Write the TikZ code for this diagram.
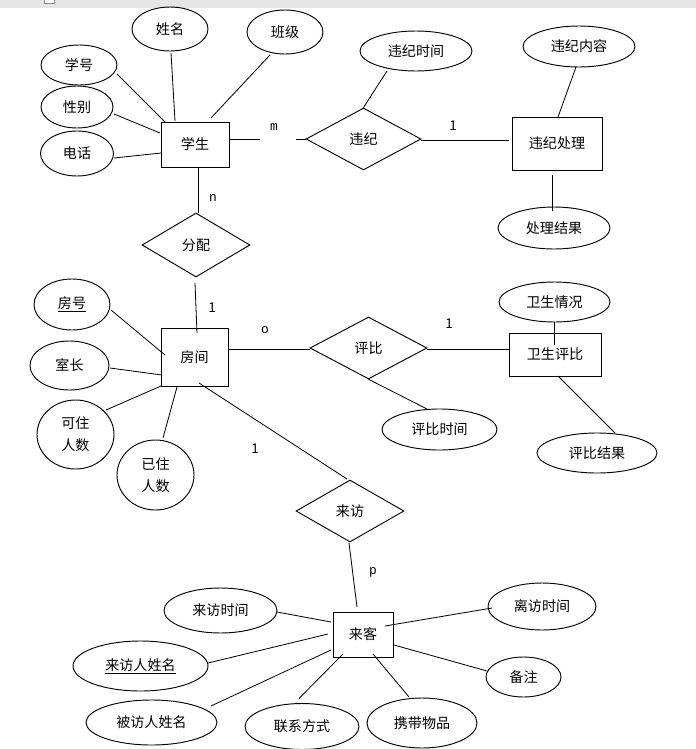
\documentclass[tikz,border=0pt]{standalone}
\usepackage{fontspec}
\setmainfont{Noto Sans CJK SC}
\newfontfamily\labfont{Liberation Mono}
\usetikzlibrary{shapes.geometric,calc}
\tikzset{
  ell/.style 2 args={ellipse,draw,line width=0.8pt,minimum width=#1*0.03cm,minimum height=#2*0.03cm,inner sep=0pt},
  ent/.style 2 args={rectangle,draw,line width=0.8pt,minimum width=#1*0.03cm,minimum height=#2*0.03cm,inner sep=0pt},
  rel/.style 2 args={diamond,draw,line width=0.8pt,minimum width=#1*0.03cm,minimum height=#2*0.03cm,inner sep=0pt},
  conn/.style={line width=0.7pt},
  card/.style={inner sep=0pt,font=\labfont\fontsize{11pt}{13pt}\selectfont},
  cardone/.style={inner sep=0pt,font=\fontsize{11.5pt}{13pt}\selectfont},
}
\begin{document}
\begin{tikzpicture}[x=0.03cm,y=-0.03cm,font=\fontsize{12pt}{19pt}\selectfont]
\useasboundingbox (0,0) rectangle (696,749);
\fill[black!10] (0,0) rectangle (696,8);
\draw[black!45,fill=white,line width=0.5pt] (44,-1) rectangle (54,3);

% student
\node[ent={68}{45}] (stu) at (195,144.5) {学生};
\node[ell={76}{44}] (xm) at (170,29) {姓名};
\node[ell={76}{44}] (bj) at (285,32) {班级};
\node[ell={76}{40}] (xh) at (79,65) {学号};
\node[ell={72}{42}] (xb) at (77,107) {性别};
\node[ell={73}{45}] (dh) at (77,153.5) {电话};
\draw[conn] ($(xh)+(38,9)$) -- ($(stu)+(-30,-22.5)$);
\draw[conn] ($(xm)+(1,24)$) -- ($(stu)+(-20,-23.5)$);
\draw[conn] ($(bj)+(-15,23)$) -- ($(stu)+(16,-26.5)$);
\draw[conn] ($(xb)+(37,7)$) -- ($(stu)+(-35,-11.5)$);
\draw[conn] ($(dh)+(37,4.5)$) -- ($(stu)+(-34,8.5)$);

% violation
\node[rel={115}{62}] (wj) at (363.5,139) {违纪};
\coordinate (gapA) at (260,139);
\coordinate (gapB) at (296,139);
\draw[conn] ($(stu)+(34,-5.5)$) -- (gapA);
\draw[conn] (gapB) -- (wj.west);
\node[card] (lm) at (274,127) {m};
\node[ell={112}{40}] (wjsj) at (416,51) {违纪时间};
\draw[conn] ($(wjsj)+(-29,20)$) -- (wj.north);
\node[ent={90}{53}] (wjcl) at (557,143.5) {违纪处理};
\draw[conn] ($(wj)+(57.5,1)$) -- ($(wjcl)+(-48,-3.5)$);
\node[cardone] (l1a) at (453,126) {1};
\node[ell={112}{41}] (wjnr) at (579,46.5) {违纪内容};
\draw[conn] ($(wjnr)+(-3,20.5)$) -- ($(wjcl)+(1,-26.5)$);
\node[ell={112}{42}] (cljg) at (554,228) {处理结果};
\draw[conn] ($(wjcl)+(-5,31.5)$) -- ($(cljg)+(-2,-17)$);

% assignment
\node[rel={108}{64}] (fp) at (196,245) {分配};
\draw[conn] ($(stu)+(3,22.5)$) -- ($(fp)+(2,-32)$);
\node[card] (ln) at (213,198) {n};
\node[ent={67}{58}] (fj) at (194.5,357) {房间};
\draw[conn] ($(fp)+(-1,38)$) -- ($(fj)+(2.5,-24)$);
\node[cardone] (l1b) at (212,308) {1};
\node[ell={76}{51}] (fh) at (72,304.5) {\underline{房号}};
\draw[conn] ($(fh)+(39,5.5)$) -- ($(fj)+(-29.5,-2)$);
\node[ell={79}{49}] (sz) at (69.5,365.5) {室长};
\draw[conn] ($(sz)+(40.5,2.5)$) -- ($(fj)+(-32.5,18)$);
\node[ell={77}{69},align=center] (kz) at (75.5,434.5) {可住\\人数};
\draw[conn] ($(kz)+(30.5,-24.5)$) -- ($(fj)+(-33.5,29)$);
\node[ell={77}{70},align=center] (yz) at (155.5,475) {已住\\人数};
\draw[conn] ($(yz)+(7.5,-37)$) -- ($(fj)+(-17.5,30)$);

% hygiene rating
\node[rel={117}{62}] (pb) at (368.5,348) {评比};
\draw[conn] ($(fj)+(33.5,-8)$) -- ($(pb)+(-58.5,1)$);
\node[card] (lo) at (265,330) {o};
\node[ent={92}{43}] (wspb) at (555,354.5) {卫生评比};
\draw[conn] ($(pb)+(58.5,1)$) -- ($(wspb)+(-46,-5.5)$);
\node[cardone] (l1c) at (449,324) {1};
\node[ell={111}{40}] (wsqk) at (554.5,302) {卫生情况};
\draw[conn] ($(wsqk)+(-0.5,20)$) -- ($(wspb)+(-1,-9.5)$);
\node[ell={115}{41}] (pbsj) at (439.5,429.5) {评比时间};
\draw[conn] ($(pb)+(-0.5,31)$) -- ($(pbsj)+(-12.5,-20.5)$);
\node[ell={120}{40}] (pbjg) at (597,453) {评比结果};
\draw[conn] ($(wspb)+(3,21.5)$) -- ($(pbjg)+(18,-20)$);

% visit
\node[rel={108}{62}] (lf) at (350,511) {来访};
\draw[conn] ($(fj)+(4.5,26)$) -- ($(lf)+(-3,-32)$);
\node[cardone] (l1d) at (255,449) {1};
\node[ent={60}{45}] (lk) at (363,634.5) {来客};
\draw[conn] ($(lf)+(-1,32)$) -- ($(lk)+(-6,-27.5)$);
\node[card] (lp) at (373,572) {p};
\node[ell={113}{45}] (lfsj) at (220.5,610.5) {来访时间};
\draw[conn] ($(lfsj)+(56.5,1.5)$) -- ($(lk)+(-32,-12.5)$);
\node[ell={135}{50}] (lfr) at (140.5,666) {\underline{来访人姓名}};
\draw[conn] ($(lfr)+(67.5,-3)$) -- ($(lk)+(-35,-0.5)$);
\node[ell={131}{45}] (bfr) at (151.5,722.5) {被访人姓名};
\draw[conn] ($(bfr)+(59.5,-16.5)$) -- ($(lk)+(-32,15.5)$);
\node[ell={114}{46}] (lxfs) at (302,726.5) {联系方式};
\draw[conn] ($(lk)+(-20,19.5)$) -- ($(lxfs)+(-3,-28)$);
\node[ell={110}{50}] (xdwp) at (422,723) {携带物品};
\draw[conn] ($(lk)+(10,19.5)$) -- ($(xdwp)+(-13,-26)$);
\node[ell={108}{47}] (lfsj2) at (542,606.5) {离访时间};
\draw[conn] ($(lk)+(22,-8.5)$) -- ($(lfsj2)+(-50,1.5)$);
\node[ell={75}{40}] (bz) at (523.5,677) {备注};
\draw[conn] ($(lk)+(31,10.5)$) -- ($(bz)+(-36.5,-6)$);
\end{tikzpicture}
\end{document}
